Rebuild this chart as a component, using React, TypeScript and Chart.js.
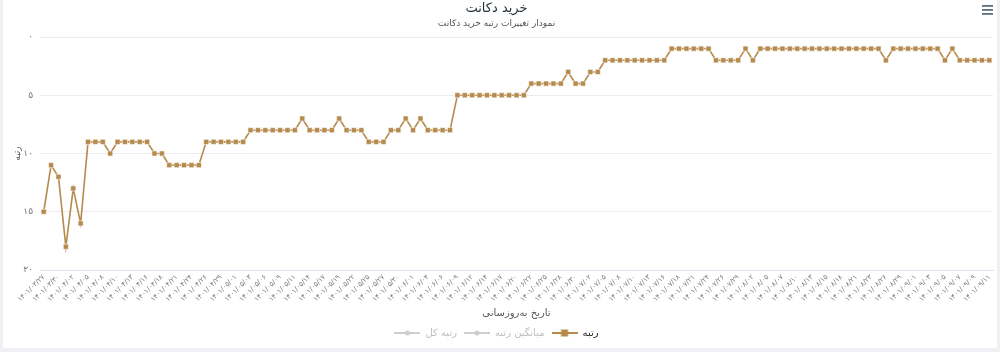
import React, { useEffect, useRef } from "react";
import { Chart, registerables } from "chart.js";

Chart.register(...registerables);

// ---------- data ----------
const dates: string[] = [
  "۱۴۰۱/۰۳/۲۷", "۱۴۰۱/۰۳/۲۸", "۱۴۰۱/۰۳/۳۰",
  "۱۴۰۱/۰۴/۰۱", "۱۴۰۱/۰۴/۰۲", "۱۴۰۱/۰۴/۰۴", "۱۴۰۱/۰۴/۰۵", "۱۴۰۱/۰۴/۰۶", "۱۴۰۱/۰۴/۰۸", "۱۴۰۱/۰۴/۰۹", "۱۴۰۱/۰۴/۱۰",
  "۱۴۰۱/۰۴/۱۲", "۱۴۰۱/۰۴/۱۳", "۱۴۰۱/۰۴/۱۴", "۱۴۰۱/۰۴/۱۶", "۱۴۰۱/۰۴/۱۷", "۱۴۰۱/۰۴/۱۸", "۱۴۰۱/۰۴/۲۰", "۱۴۰۱/۰۴/۲۱",
  "۱۴۰۱/۰۴/۲۲", "۱۴۰۱/۰۴/۲۴", "۱۴۰۱/۰۴/۲۵", "۱۴۰۱/۰۴/۲۶", "۱۴۰۱/۰۴/۲۸", "۱۴۰۱/۰۴/۲۹", "۱۴۰۱/۰۴/۳۰",
  "۱۴۰۱/۰۵/۰۱", "۱۴۰۱/۰۵/۰۲", "۱۴۰۱/۰۵/۰۳", "۱۴۰۱/۰۵/۰۵", "۱۴۰۱/۰۵/۰۶", "۱۴۰۱/۰۵/۰۷", "۱۴۰۱/۰۵/۰۹", "۱۴۰۱/۰۵/۱۰",
  "۱۴۰۱/۰۵/۱۱", "۱۴۰۱/۰۵/۱۳", "۱۴۰۱/۰۵/۱۴", "۱۴۰۱/۰۵/۱۵", "۱۴۰۱/۰۵/۱۷", "۱۴۰۱/۰۵/۱۸", "۱۴۰۱/۰۵/۱۹", "۱۴۰۱/۰۵/۲۱",
  "۱۴۰۱/۰۵/۲۲", "۱۴۰۱/۰۵/۲۳", "۱۴۰۱/۰۵/۲۵", "۱۴۰۱/۰۵/۲۶", "۱۴۰۱/۰۵/۲۷", "۱۴۰۱/۰۵/۲۹", "۱۴۰۱/۰۵/۳۰", "۱۴۰۱/۰۵/۳۱",
  "۱۴۰۱/۰۶/۰۱", "۱۴۰۱/۰۶/۰۲", "۱۴۰۱/۰۶/۰۴", "۱۴۰۱/۰۶/۰۵", "۱۴۰۱/۰۶/۰۶", "۱۴۰۱/۰۶/۰۸", "۱۴۰۱/۰۶/۰۹", "۱۴۰۱/۰۶/۱۰",
  "۱۴۰۱/۰۶/۱۲", "۱۴۰۱/۰۶/۱۳", "۱۴۰۱/۰۶/۱۴", "۱۴۰۱/۰۶/۱۶", "۱۴۰۱/۰۶/۱۷", "۱۴۰۱/۰۶/۱۸", "۱۴۰۱/۰۶/۲۰", "۱۴۰۱/۰۶/۲۱",
  "۱۴۰۱/۰۶/۲۲", "۱۴۰۱/۰۶/۲۴", "۱۴۰۱/۰۶/۲۵", "۱۴۰۱/۰۶/۲۶", "۱۴۰۱/۰۶/۲۸", "۱۴۰۱/۰۶/۲۹", "۱۴۰۱/۰۶/۳۰",
  "۱۴۰۱/۰۷/۰۱", "۱۴۰۱/۰۷/۰۲", "۱۴۰۱/۰۷/۰۴", "۱۴۰۱/۰۷/۰۵", "۱۴۰۱/۰۷/۰۶", "۱۴۰۱/۰۷/۰۸", "۱۴۰۱/۰۷/۰۹", "۱۴۰۱/۰۷/۱۰",
  "۱۴۰۱/۰۷/۱۲", "۱۴۰۱/۰۷/۱۳", "۱۴۰۱/۰۷/۱۴", "۱۴۰۱/۰۷/۱۶", "۱۴۰۱/۰۷/۱۷", "۱۴۰۱/۰۷/۱۸", "۱۴۰۱/۰۷/۲۰", "۱۴۰۱/۰۷/۲۱",
  "۱۴۰۱/۰۷/۲۲", "۱۴۰۱/۰۷/۲۴", "۱۴۰۱/۰۷/۲۵", "۱۴۰۱/۰۷/۲۶", "۱۴۰۱/۰۷/۲۸", "۱۴۰۱/۰۷/۲۹",
  "۱۴۰۱/۰۸/۰۱", "۱۴۰۱/۰۸/۰۲", "۱۴۰۱/۰۸/۰۳", "۱۴۰۱/۰۸/۰۵", "۱۴۰۱/۰۸/۰۶", "۱۴۰۱/۰۸/۰۷", "۱۴۰۱/۰۸/۰۹", "۱۴۰۱/۰۸/۱۰",
  "۱۴۰۱/۰۸/۱۱", "۱۴۰۱/۰۸/۱۳", "۱۴۰۱/۰۸/۱۴", "۱۴۰۱/۰۸/۱۵", "۱۴۰۱/۰۸/۱۷", "۱۴۰۱/۰۸/۱۸", "۱۴۰۱/۰۸/۱۹", "۱۴۰۱/۰۸/۲۱",
  "۱۴۰۱/۰۸/۲۲", "۱۴۰۱/۰۸/۲۳", "۱۴۰۱/۰۸/۲۵", "۱۴۰۱/۰۸/۲۶", "۱۴۰۱/۰۸/۲۷", "۱۴۰۱/۰۸/۲۹", "۱۴۰۱/۰۸/۳۰",
  "۱۴۰۱/۰۹/۰۱", "۱۴۰۱/۰۹/۰۲", "۱۴۰۱/۰۹/۰۳", "۱۴۰۱/۰۹/۰۴", "۱۴۰۱/۰۹/۰۵", "۱۴۰۱/۰۹/۰۶", "۱۴۰۱/۰۹/۰۷", "۱۴۰۱/۰۹/۰۸",
  "۱۴۰۱/۰۹/۰۹", "۱۴۰۱/۰۹/۱۰", "۱۴۰۱/۰۹/۱۱",
];

const rank: number[] = [
  15, 11, 12, 18, 13, 16, 9, 9, 9, 10,
  9, 9, 9, 9, 9, 10, 10, 11, 11, 11,
  11, 11, 9, 9, 9, 9, 9, 9, 8, 8,
  8, 8, 8, 8, 8, 7, 8, 8, 8, 8,
  7, 8, 8, 8, 9, 9, 9, 8, 8, 7,
  8, 7, 8, 8, 8, 8, 5, 5, 5, 5,
  5, 5, 5, 5, 5, 5, 4, 4, 4, 4,
  4, 3, 4, 4, 3, 3, 2, 2, 2, 2,
  2, 2, 2, 2, 2, 1, 1, 1, 1, 1,
  1, 2, 2, 2, 2, 1, 2, 1, 1, 1,
  1, 1, 1, 1, 1, 1, 1, 1, 1, 1,
  1, 1, 1, 1, 2, 1, 1, 1, 1, 1,
  1, 1, 2, 1, 2, 2, 2, 2, 2,
];

// hidden series (shown only as greyed legend entries)
const avgRank: number[] = [];
const totalRank: number[] = [];

const yTickLabels: string[] = ["۰", "۵", "۱۰", "۱۵", "۲۰"];
const seriesNames: string[] = ["رتبه", "میانگین رتبه", "رتبه کل"];
const titleText = "خرید دکانت";
const subtitleText = "نمودار تغییرات رتبه خرید دکانت";
const xTitleText = "تاریخ به‌روزسانی";
const yTitleText = "رتبه";

// ---------- styles ----------
const BROWN = "#b68a4c";
const GREY_MARK = "#cfcfcf";
const FONT = "'DejaVu Sans', sans-serif";

function makeMarker(color: string, shape: "square" | "circle"): HTMLCanvasElement {
  const c = document.createElement("canvas");
  c.width = 26;
  c.height = 10;
  const g = c.getContext("2d")!;
  g.strokeStyle = color;
  g.lineWidth = 2;
  g.beginPath();
  g.moveTo(0, 5);
  g.lineTo(26, 5);
  g.stroke();
  g.fillStyle = color;
  if (shape === "square") {
    g.fillRect(9.5, 1.5, 7, 7);
  } else {
    g.beginPath();
    g.arc(13, 5, 2.5, 0, Math.PI * 2);
    g.fill();
  }
  return c;
}

const pagePlugin = {
  id: "pageDecor",
  beforeDraw(chart: any) {
    const ctx = chart.ctx;
    ctx.save();
    ctx.fillStyle = "#eff0f3";
    ctx.fillRect(0, 0, chart.width, chart.height);
    ctx.fillStyle = "#ffffff";
    ctx.fillRect(3, 0, 994, 348);
    ctx.restore();
  },
  afterDraw(chart: any) {
    const ctx = chart.ctx;
    ctx.save();
    ctx.fillStyle = "#5f6f7e";
    ctx.fillRect(982, 5, 11, 1.8);
    ctx.fillRect(982, 9, 11, 1.8);
    ctx.fillRect(982, 13, 11, 1.8);
    ctx.restore();
  },
};

export default function App() {
  const ref = useRef<HTMLCanvasElement | null>(null);

  useEffect(() => {
    if (!ref.current) return;
    const mainMarker = makeMarker(BROWN, "square");
    const greyMarker = makeMarker(GREY_MARK, "circle");

    const chart = new Chart(ref.current, {
      type: "line",
      data: {
        labels: dates,
        datasets: [
          {
            label: seriesNames[0],
            data: rank,
            borderColor: BROWN,
            backgroundColor: BROWN,
            borderWidth: 1.6,
            tension: 0,
            fill: false,
            pointStyle: "rect",
            pointRadius: 3.6,
            pointBackgroundColor: BROWN,
            pointBorderColor: "rgba(255,255,255,0.55)",
            pointBorderWidth: 1,
          },
          { label: seriesNames[1], data: avgRank, hidden: true, borderColor: GREY_MARK },
          { label: seriesNames[2], data: totalRank, hidden: true, borderColor: GREY_MARK },
        ],
      },
      options: {
        animation: false,
        responsive: false,
        devicePixelRatio: 1,
        events: [],
        layout: { padding: { left: 0, right: 7, top: 0, bottom: 4 } },
        plugins: {
          title: {
            display: true,
            text: titleText,
            color: "#263238",
            font: { family: FONT, size: 13, weight: "normal" },
            padding: { top: 1, bottom: 2 },
          },
          subtitle: {
            display: true,
            text: subtitleText,
            color: "#555555",
            font: { family: FONT, size: 9, weight: "normal" },
            padding: { top: 0, bottom: 7.6 },
          },
          legend: {
            position: "bottom",
            labels: {
              usePointStyle: true,
              pointStyleWidth: 26,
              padding: 7,
              font: { family: FONT, size: 10 },
              generateLabels: () => [
                {
                  text: seriesNames[2],
                  pointStyle: greyMarker,
                  fillStyle: GREY_MARK,
                  strokeStyle: GREY_MARK,
                  lineWidth: 0,
                  hidden: false,
                  fontColor: "#bdbdbd",
                  datasetIndex: 2,
                } as any,
                {
                  text: seriesNames[1],
                  pointStyle: greyMarker,
                  fillStyle: GREY_MARK,
                  strokeStyle: GREY_MARK,
                  lineWidth: 0,
                  hidden: false,
                  fontColor: "#bdbdbd",
                  datasetIndex: 1,
                } as any,
                {
                  text: seriesNames[0],
                  pointStyle: mainMarker,
                  fillStyle: BROWN,
                  strokeStyle: BROWN,
                  lineWidth: 0,
                  hidden: false,
                  fontColor: "#222222",
                  datasetIndex: 0,
                } as any,
              ],
            },
          },
          tooltip: { enabled: false },
        },
        scales: {
          x: {
            offset: true,
            grid: { display: false },
            border: { display: true, color: "#dfe4ee" },
            ticks: {
              autoSkip: false,
              maxRotation: 45,
              minRotation: 45,
              padding: -5,
              color: "#7a7a7a",
              font: { family: FONT, size: 7 },
              callback: (_v: any, i: number) => (i % 2 === 0 ? dates[i] : ""),
            },
            title: {
              display: true,
              text: xTitleText,
              color: "#555555",
              font: { family: FONT, size: 10 },
              padding: { top: 0, bottom: 2 },
            },
            afterFit: (s: any) => {
              s.height = 51;
            },
          },
          y: {
            reverse: true,
            min: 0,
            max: 20,
            ticks: {
              stepSize: 5,
              padding: 7,
              color: "#777777",
              font: { family: FONT, size: 9 },
              callback: (v: any) => yTickLabels[Math.round(Number(v) / 5)],
            },
            grid: {
              drawTicks: false,
              color: (c: any) => (c.tick && c.tick.value === 20 ? "#dfe4ee" : "#ececec"),
            },
            border: { display: false },
            title: {
              display: true,
              text: yTitleText,
              color: "#555555",
              font: { family: FONT, size: 9 },
              padding: { top: 12, bottom: 0 },
            },
            afterFit: (s: any) => {
              s.width = 40;
            },
          },
        },
      },
      plugins: [pagePlugin],
    } as any);

    return () => chart.destroy();
  }, []);

  return (
    <div style={{ position: "fixed", left: 0, top: 0, width: 1000, height: 352 }}>
      <canvas ref={ref} width={1000} height={352} style={{ display: "block", width: 1000, height: 352 }} />
    </div>
  );
}
